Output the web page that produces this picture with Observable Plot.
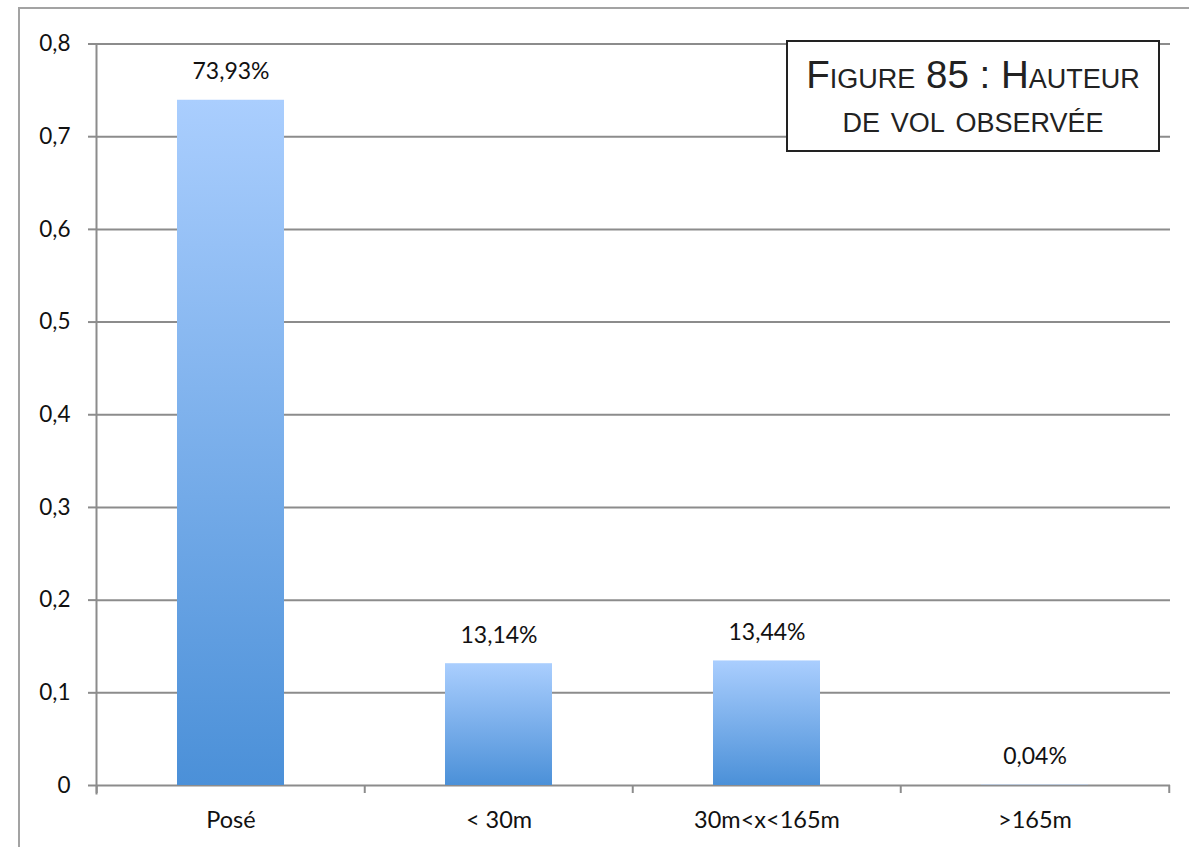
<!DOCTYPE html>
<html>
<head>
<meta charset="utf-8">
<script src="https://cdn.jsdelivr.net/npm/d3@7"></script>
<script src="https://cdn.jsdelivr.net/npm/@observablehq/plot@0.6"></script>
<style>
  html, body { margin: 0; padding: 0; background: #fff; }
  #wrap { position: relative; width: 1189px; height: 847px; overflow: hidden; }
  #wrap svg { position: absolute; left: 0; top: 0; }
  #frame {
    position: absolute; left: 18px; top: 7px; width: 1250px; height: 950px;
    border: 2px solid #a3a3a3; box-sizing: border-box; pointer-events: none;
  }
  #title {
    position: absolute; left: 786px; top: 40px; width: 374px; height: 112px;
    box-sizing: border-box; border: 2px solid #222; background: #fff;
    font-family: "Liberation Sans", Arial, sans-serif; font-size: 38.5px;
    font-variant: small-caps; text-align: center; line-height: 44px;
    padding-top: 11px; color: #222; white-space: nowrap;
  }
</style>
</head>
<body>
<div id="wrap">
  <div id="frame"></div>
  <div id="title">Figure 85 : Hauteur<br>de vol observée</div>
</div>
<script>
// Flight height classes and their share of observations
const categories = ["Posé", "< 30m", "30m<x<165m", ">165m"];
const shares = [0.7393, 0.1314, 0.1344, 0.0004];
const yTicks = [0, 0.1, 0.2, 0.3, 0.4, 0.5, 0.6, 0.7, 0.8];
const yTickLabels = ["0", "0,1", "0,2", "0,3", "0,4", "0,5", "0,6", "0,7", "0,8"];

const data = categories.map((category, i) => ({category, share: shares[i]}));

const W = 1189, H = 847;
const mL = 96, mR = 19, mT = 43.5, mB = 62;
const bandW = (W - mL - mR) / categories.length;
const gridColor = "#8c8c8c";
const textColor = "#111";

// Vertical gradient used to fill every bar (light at the top, darker at the base)
function gradientDefs() {
  const ns = "http://www.w3.org/2000/svg";
  const defs = document.createElementNS(ns, "defs");
  const grad = document.createElementNS(ns, "linearGradient");
  grad.setAttribute("id", "barFill");
  grad.setAttribute("x1", "0"); grad.setAttribute("y1", "0");
  grad.setAttribute("x2", "0"); grad.setAttribute("y2", "1");
  [["0%", "#aacefe"], ["100%", "#4b90d8"]].forEach(([o, c]) => {
    const s = document.createElementNS(ns, "stop");
    s.setAttribute("offset", o);
    s.setAttribute("stop-color", c);
    grad.appendChild(s);
  });
  defs.appendChild(grad);
  return defs;
}

const fmtPct = v => (v * 100).toFixed(2).replace(".", ",") + "%";

const chart = Plot.plot({
  width: W,
  height: H,
  marginLeft: mL,
  marginRight: mR,
  marginTop: mT,
  marginBottom: mB,
  style: {fontFamily: "Lato, 'Open Sans', sans-serif", fontSize: "23px", color: textColor, background: "transparent"},
  x: {domain: categories, paddingInner: 0.6, paddingOuter: 0.3, axis: null},
  y: {domain: [0, 0.8], axis: null},
  marks: [
    gradientDefs,
    Plot.ruleY(yTicks, {stroke: gridColor, strokeWidth: 2}),
    Plot.axisY({
      ticks: yTicks,
      tickSize: 8,
      tickPadding: 18,
      tickFormat: d => yTickLabels[yTicks.indexOf(d)],
      label: null,
      stroke: gridColor,
      strokeWidth: 2,
      fill: textColor,
      fontSize: 22.5
    }),
    Plot.frame({anchor: "left", stroke: gridColor, strokeWidth: 2, insetBottom: -8}),
    // tick marks on the category boundaries
    Plot.ruleX(categories, {x: d => d, dx: -bandW / 2, y1: 0, y2: 0, insetBottom: -8, stroke: gridColor, strokeWidth: 2}),
    Plot.ruleX(categories.slice(-1), {x: d => d, dx: bandW / 2, y1: 0, y2: 0, insetBottom: -8, stroke: gridColor, strokeWidth: 2}),
    Plot.barY(data, {x: "category", y: "share", fill: "url(#barFill)"}),
    Plot.text(data, {
      x: "category", y: "share", text: d => fmtPct(d.share),
      lineAnchor: "bottom", dy: -21, fontSize: 23, fill: textColor
    }),
    Plot.axisX({tickSize: 0, tickPadding: 26, label: null, fontSize: 23.5, fill: textColor})
  ]
});

document.getElementById("wrap").insertBefore(chart, document.getElementById("frame"));
</script>
</body>
</html>
